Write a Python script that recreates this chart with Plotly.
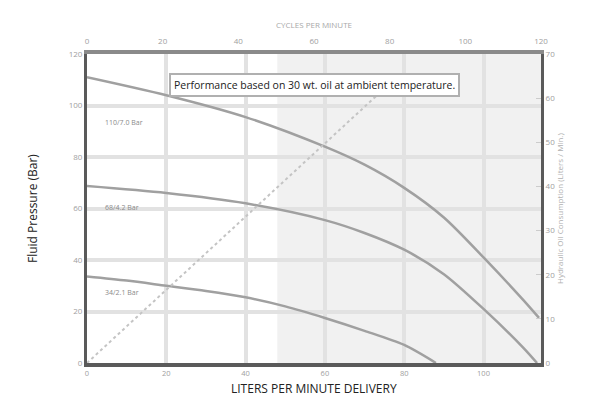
import plotly.graph_objects as go

# liters per minute delivery (bottom axis) vs fluid pressure (bar)
lpm_top = [0, 20, 40, 60, 70, 80, 90, 100, 110, 114]
bar_top = [111, 104, 95.5, 84, 77, 68, 56.5, 41, 24.5, 17.5]

lpm_mid = [0, 20, 40, 60, 70, 80, 90, 100, 110, 113.5]
bar_mid = [68.7, 66, 62, 55.5, 50.5, 44, 34.5, 21, 6, 0]

lpm_low = [0, 10, 20, 30, 40, 50, 60, 70, 80, 88]
bar_low = [33.6, 32, 30, 28, 25.5, 22, 17.5, 12.5, 7, 0]

# oil consumption line (cycles per minute vs liters / min)
cycles = [0, 76.6]
oil = [0, 60.6]

labels = ['110/7.0 Bar', '68/4.2 Bar', '34/2.1 Bar']
label_y = [93.5, 60.5, 27.5]

LINE = '#a0a0a0'
GRID = '#e2e2e2'
TICK = '#a0a0a0'

fig = go.Figure()

# shaded zone on the right part of the chart
fig.add_shape(type='rect', xref='x', yref='paper', x0=48, x1=114.5, y0=0, y1=1,
              fillcolor='#f1f1f1', line_width=0, layer='below')

for xs, ys in [(lpm_top, bar_top), (lpm_mid, bar_mid), (lpm_low, bar_low)]:
    fig.add_trace(go.Scatter(x=xs, y=ys, mode='lines',
                             line=dict(color=LINE, width=2.5, shape='spline', smoothing=0.8),
                             showlegend=False, xaxis='x', yaxis='y'))

fig.add_trace(go.Scatter(x=cycles, y=oil, mode='lines', line=dict(color='#c4c4c4', width=2, dash='dot'),
                         showlegend=False, xaxis='x2', yaxis='y2'))

for t, yv in zip(labels, label_y):
    fig.add_annotation(x=4, y=yv, xref='x', yref='y', text=t, showarrow=False, xanchor='left',
                       font=dict(size=7, color='#8a8a8a'))

fig.add_annotation(x=0.5, y=0.937, xref='paper', yref='paper',
                   text='Performance based on 30 wt. oil at ambient temperature.',
                   showarrow=False, bgcolor='white', bordercolor='#b0b0b0', borderwidth=2,
                   borderpad=3, font=dict(size=10.5, color='#222', family='Open Sans'))

# axis titles
fig.add_annotation(x=0, y=0.5, xref='paper', yref='paper', xshift=-65, text='Fluid Pressure (Bar)',
                   textangle=-90, showarrow=False, font=dict(size=12, color='#222'))
fig.add_annotation(x=0.5, y=0, xref='paper', yref='paper', yshift=-35, yanchor='bottom',
                   text='LITERS PER MINUTE DELIVERY', borderpad=0,
                   showarrow=False, font=dict(size=12, color='#222'))
fig.add_annotation(x=0.5, y=1, xref='paper', yref='paper', yshift=37, text='CYCLES PER MINUTE',
                   showarrow=False, font=dict(size=8, color='#a8a8a8'))
fig.add_annotation(x=1, y=0.5, xref='paper', yref='paper', xshift=26,
                   text='Hydraulic Oil Consumption (Liters / Min.)', textangle=-90,
                   showarrow=False, font=dict(size=8, color='#b0b0b0'))

# the page body adds an 8px offset, so the figure is 8px smaller with 8px less on left/top
fig.update_layout(
    width=607, height=396,
    margin=dict(l=79, r=74, t=46, b=41),
    plot_bgcolor='white', paper_bgcolor='white',
    font=dict(family='Open Sans', color=TICK, size=8),
    xaxis=dict(range=[0, 114.5], tickvals=[0, 20, 40, 60, 80, 100], showgrid=True, gridcolor=GRID,
               gridwidth=4, zeroline=False, showline=True, linecolor='#5a5a5a', linewidth=4,
               ticks='', tickfont=dict(size=7.5, color=TICK), automargin=False, ticklabelstandoff=0),
    xaxis2=dict(range=[0, 120], dtick=20, overlaying='x', side='top', showgrid=False, zeroline=False,
                showline=True, linecolor='#8a8a8a', linewidth=4, ticks='', tickfont=dict(size=8, color=TICK),
                automargin=False, ticklabelstandoff=3),
    yaxis=dict(range=[0, 120], dtick=20, showgrid=True, gridcolor=GRID, gridwidth=4, zeroline=False,
               showline=True, linecolor='#5a5a5a', linewidth=3, ticks='', tickfont=dict(size=8, color=TICK),
               automargin=False),
    yaxis2=dict(range=[0, 70], dtick=10, overlaying='y', side='right', showgrid=False, zeroline=False,
                showline=True, linecolor='#5a5a5a', linewidth=3, ticks='inside', ticklen=5,
                tickcolor='#cccccc', tickfont=dict(size=8, color=TICK), automargin=False),
)

fig.write_html("out.html")
